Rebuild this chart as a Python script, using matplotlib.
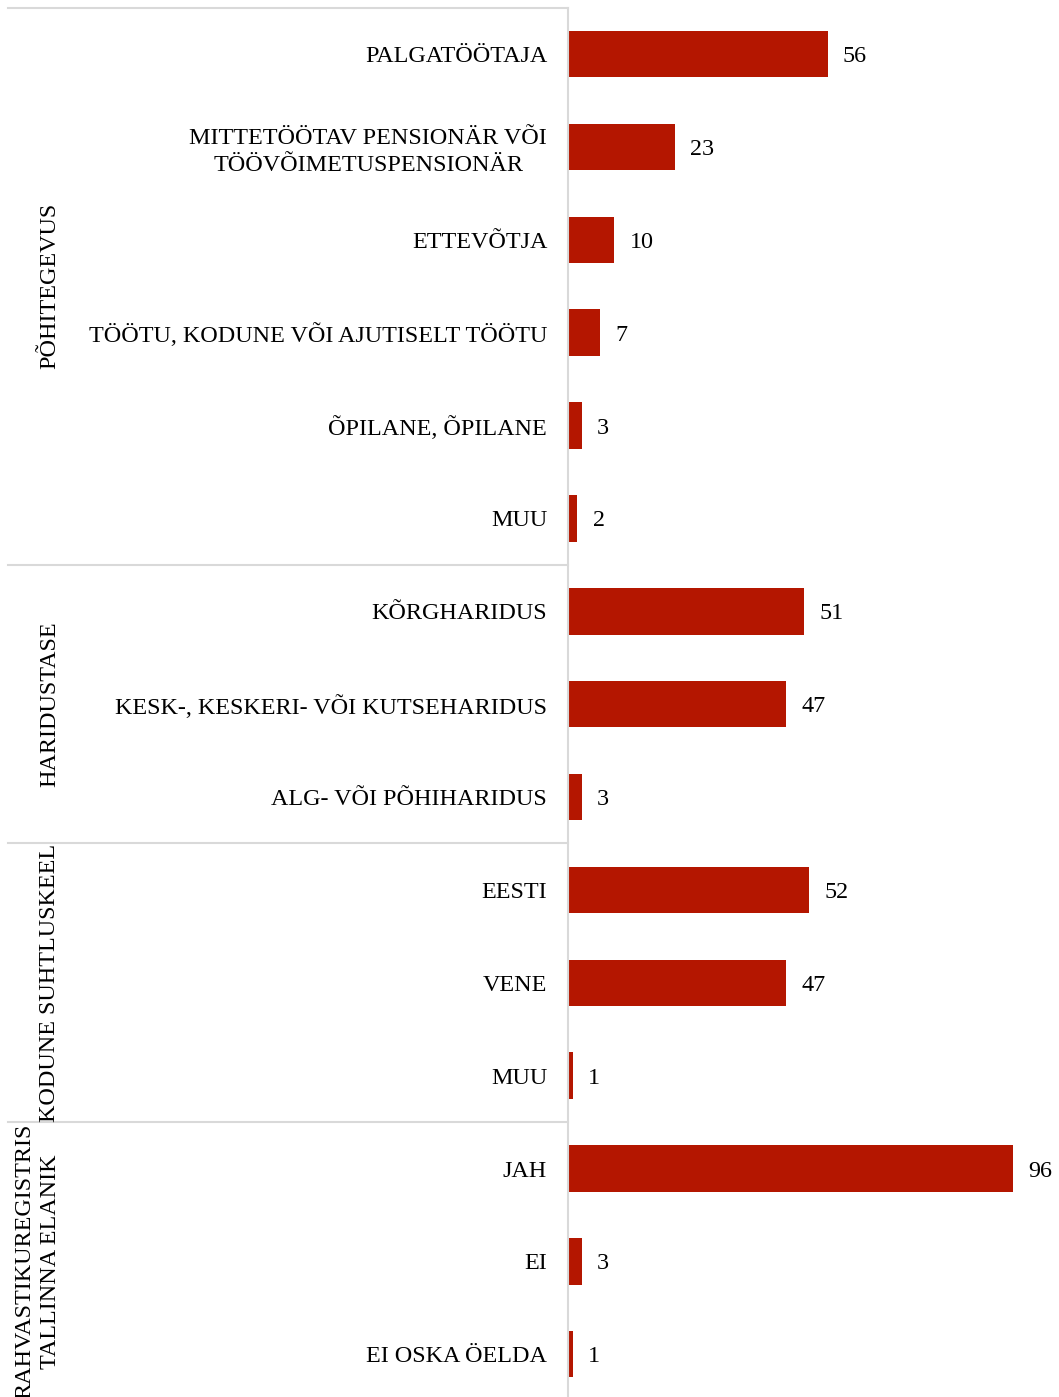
import numpy as np
import matplotlib.pyplot as plt
from matplotlib.transforms import blended_transform_factory

plt.rcParams['font.family'] = ['Liberation Serif', 'DejaVu Serif']

# data, top to bottom
categories = [
    "PALGATÖÖTAJA",
    "MITTETÖÖTAV PENSIONÄR VÕI\nTÖÖVÕIMETUSPENSIONÄR",
    "ETTEVÕTJA",
    "TÖÖTU, KODUNE VÕI AJUTISELT TÖÖTU",
    "ÕPILANE, ÕPILANE",
    "MUU",
    "KÕRGHARIDUS",
    "KESK-, KESKERI- VÕI KUTSEHARIDUS",
    "ALG- VÕI PÕHIHARIDUS",
    "EESTI",
    "VENE",
    "MUU",
    "JAH",
    "EI",
    "EI OSKA ÖELDA",
]
values = [56, 23, 10, 7, 3, 2, 51, 47, 3, 52, 47, 1, 96, 3, 1]
groups = ["PÕHITEGEVUS", "HARIDUSTASE", "KODUNE SUHTLUSKEEL",
          "RAHVASTIKUREGISTRIS\nTALLINNA ELANIK"]
group_sizes = [6, 3, 3, 3]

bar_color = '#b41600'
line_color = '#d9d9d9'
W, H = 1059, 1397
fs = 17.4

fig = plt.figure(figsize=(W / 100, H / 100), dpi=100)
left = 568 / W
top_px = 7.6
ax = fig.add_axes([left, 0, 1 - left, 1 - top_px / H])

y = np.arange(len(values))
ax.barh(y, values, height=0.5, color=bar_color)
ax.set_xlim(0, 105.9)
ax.set_ylim(14.46, -0.5)

for yi, v in zip(y, values):
    ax.annotate(str(v), (v, yi), xytext=(11, 0), textcoords='offset points',
                ha='left', va='center_baseline', fontsize=fs)

ax.set_yticks(y)
ax.set_yticklabels(categories, fontsize=fs)
for lab in ax.get_yticklabels():
    lab.set_multialignment('center')
    lab.set_linespacing(1.35)
ax.tick_params(axis='y', length=0, pad=15)
ax.set_xticks([])

for s in ['top', 'right', 'bottom']:
    ax.spines[s].set_visible(False)
ax.spines['left'].set_color(line_color)
ax.spines['left'].set_linewidth(1.5)

# group separators and labels
tr = blended_transform_factory(fig.transFigure, ax.transData)
start = 0
bounds = [-0.5]
for g, n in zip(groups, group_sizes):
    end = start + n
    bounds.append(end - 0.5)
    mid = (start + end - 1) / 2
    xg = 38 / W if '\n' in g else 50 / W
    ax.text(xg, mid, g, transform=tr, rotation=90, ha='center', va='center',
            fontsize=fs, multialignment='center', linespacing=1.3,
            clip_on=False)
    start = end

for b in bounds[:-1]:
    ax.plot([8 / W, left], [b, b], transform=tr, color=line_color,
            lw=1.5, clip_on=False)

fig.savefig('out.png', dpi=100)
